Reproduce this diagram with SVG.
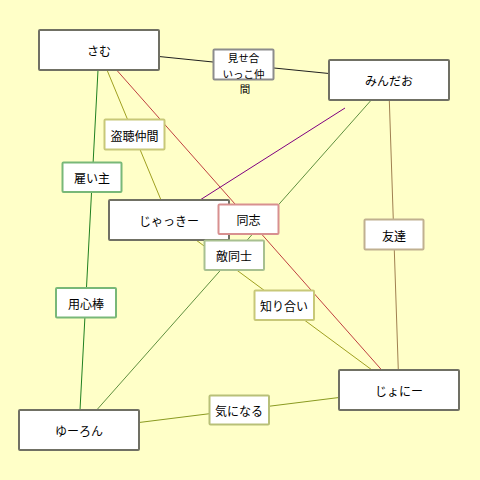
<svg xmlns="http://www.w3.org/2000/svg" width="480" height="480" viewBox="0 0 480 480">
<style>
text{font-family:"Noto Sans CJK JP","Noto Sans",sans-serif;font-size:12px;fill:#000;text-anchor:middle;dominant-baseline:central}
.node rect{fill:#fff;stroke:#707064;stroke-width:2}
.lab rect{fill:#fff;stroke-width:2}
.e{fill:none;stroke-width:1}
.ml{font-size:10.5px}
</style>
<rect width="480" height="480" fill="#ffffc8"/>
<g id="connectors">
<line class="e" x1="159" y1="56.5" x2="213" y2="62" stroke="#202020"/>
<line class="e" x1="274" y1="68" x2="329" y2="73.5" stroke="#202020"/>
<line class="e" x1="98" y1="70" x2="80" y2="410" stroke="#208020"/>
<line class="e" x1="107" y1="70" x2="161" y2="200" stroke="#a0a020"/>
<line class="e" x1="116.6" y1="70" x2="381.7" y2="370" stroke="#c04040"/>
<line class="e" x1="345" y1="108" x2="200" y2="200" stroke="#800080"/>
<line class="e" x1="371.3" y1="100" x2="96.7" y2="410" stroke="#609040"/>
<line class="e" x1="389.3" y1="100" x2="398.3" y2="370" stroke="#a08050"/>
<line class="e" x1="196" y1="240" x2="372" y2="370" stroke="#a0a020"/>
<line class="e" x1="139" y1="422.5" x2="339" y2="397.5" stroke="#8a9a20"/>
</g>
<g id="n-samu" class="node"><rect x="39" y="30" width="120" height="40" rx="1"/><text x="99" y="50">さむ</text></g>
<g id="n-mindao" class="node"><rect x="329" y="60" width="120" height="40" rx="1"/><text x="389" y="80">みんだお</text></g>
<g id="n-jacky" class="node"><rect x="109" y="200" width="120" height="40" rx="1"/><text x="169" y="220">じゃっきー</text></g>
<g id="n-yuron" class="node"><rect x="19" y="410" width="120" height="40" rx="1"/><text x="79" y="430">ゆーろん</text></g>
<g id="n-johnny" class="node"><rect x="339" y="370" width="120" height="40" rx="1"/><text x="399" y="390">じょにー</text></g>
<g id="l-miseai" class="lab"><rect x="213.5" y="49.5" width="60" height="30" rx="1" stroke="#8c8c8c"/><text class="ml" x="243.5" y="57"><tspan x="243.5" y="57">見せ合</tspan><tspan x="243.5" y="72.5">いっこ仲</tspan><tspan x="245" y="88">間</tspan></text></g>
<g id="l-tochou" class="lab"><rect x="104.5" y="119.5" width="60" height="30" rx="1" stroke="#c8c878"/><text x="134.5" y="135">盗聴仲間</text></g>
<g id="l-yatoi" class="lab"><rect x="62.5" y="162.5" width="59" height="29.5" rx="1" stroke="#78b878"/><text x="92" y="177.5">雇い主</text></g>
<g id="l-doushi" class="lab"><rect x="218.5" y="204.5" width="60" height="29.5" rx="1" stroke="#d89090"/><text x="248.5" y="219.5">同志</text></g>
<g id="l-teki" class="lab"><rect x="204.5" y="240.5" width="59.5" height="29.5" rx="1" stroke="#a8c090"/><text x="234" y="255.5">敵同士</text></g>
<g id="l-youjin" class="lab"><rect x="56" y="288" width="60" height="29.5" rx="1" stroke="#78b878"/><text x="86" y="303">用心棒</text></g>
<g id="l-shiri" class="lab"><rect x="254.5" y="290.5" width="59.5" height="29.5" rx="1" stroke="#c8c878"/><text x="284" y="305.5">知り合い</text></g>
<g id="l-tomo" class="lab"><rect x="364.5" y="219.5" width="59" height="30" rx="1" stroke="#c0b090"/><text x="394" y="235">友達</text></g>
<g id="l-kini" class="lab"><rect x="209.5" y="395.5" width="59.5" height="29" rx="1" stroke="#b8c078"/><text x="239" y="410">気になる</text></g>
</svg>
